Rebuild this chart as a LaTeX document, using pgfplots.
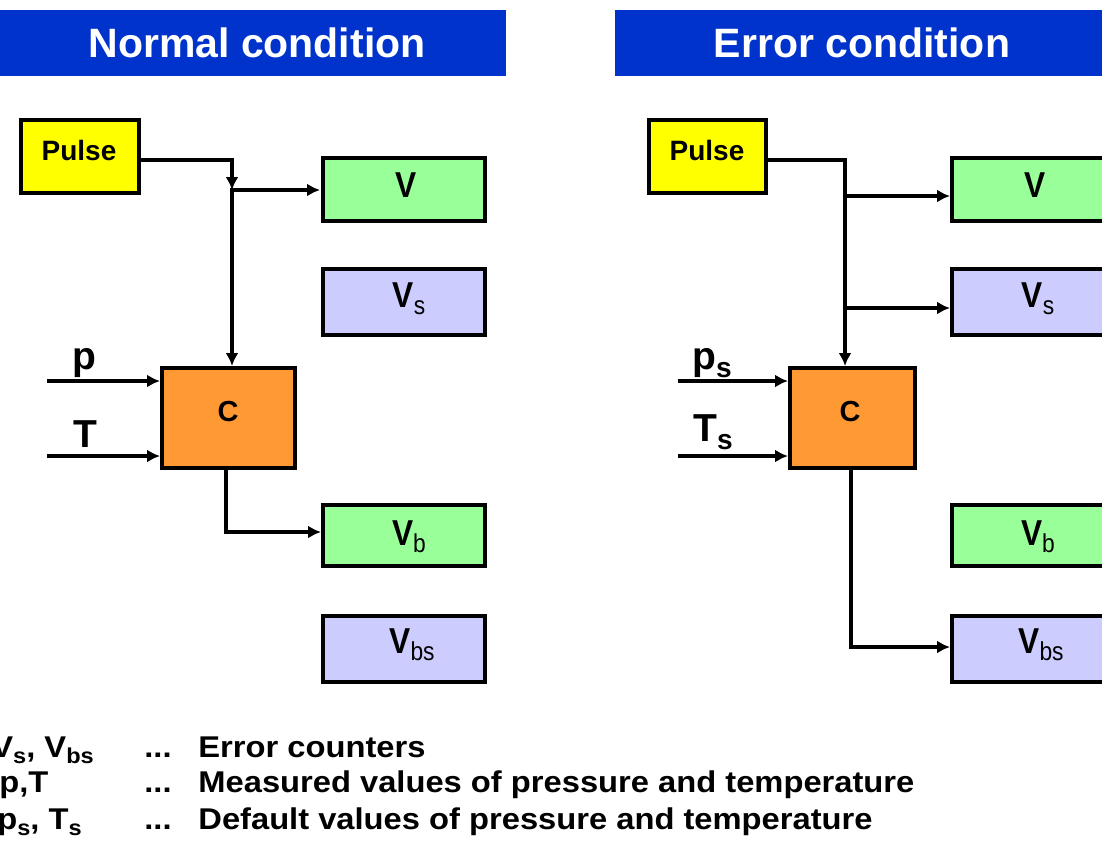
\documentclass[border=0pt]{standalone}
\usepackage{pgfplots}
\pgfplotsset{compat=1.18}
\usepackage{graphicx}
\usepackage{fontspec}
\setmainfont{Liberation Sans}
\usetikzlibrary{arrows.meta}
\definecolor{tblue}{HTML}{0033CC}
\definecolor{pyellow}{HTML}{FFFF00}
\definecolor{vgreen}{HTML}{99FF99}
\definecolor{vlav}{HTML}{CCCCFF}
\definecolor{corange}{HTML}{FF9933}
\newcommand\sub[1]{\raisebox{-0.22em}{\scalebox{0.72}{#1}}}
\begin{document}
\begin{tikzpicture}
\begin{axis}[width=551pt, height=421.5pt, scale only axis,
  xmin=0, xmax=1102, ymin=0, ymax=843, y dir=reverse, hide axis, clip=true]
\coordinate (SW) at (axis cs:0,843);
\coordinate (NE) at (axis cs:1102,0);
% title bars
\addplot[draw=none, fill=tblue] coordinates {(0,10) (506,10) (506,76) (0,76)} -- cycle;
\addplot[draw=none, fill=tblue] coordinates {(615,10) (1110,10) (1110,76) (615,76)} -- cycle;
% boxes left
\pgfplotsset{boxstyle/.style={draw=black, line width=2.3pt, mark=none}}
\addplot[boxstyle, fill=pyellow] coordinates {(21,120) (139,120) (139,193) (21,193)} -- cycle;
\addplot[boxstyle, fill=vgreen] coordinates {(323,158) (485,158) (485,221) (323,221)} -- cycle;
\addplot[boxstyle, fill=vlav] coordinates {(323,269) (485,269) (485,335) (323,335)} -- cycle;
\addplot[boxstyle, fill=corange] coordinates {(162,368) (295,368) (295,468) (162,468)} -- cycle;
\addplot[boxstyle, fill=vgreen] coordinates {(323,505) (485,505) (485,566) (323,566)} -- cycle;
\addplot[boxstyle, fill=vlav] coordinates {(323,616) (485,616) (485,682) (323,682)} -- cycle;
% boxes right
\addplot[boxstyle, fill=pyellow] coordinates {(649,120) (766,120) (766,193) (649,193)} -- cycle;
\addplot[boxstyle, fill=vgreen] coordinates {(952,158) (1115,158) (1115,221) (952,221)} -- cycle;
\addplot[boxstyle, fill=vlav] coordinates {(952,269) (1115,269) (1115,335) (952,335)} -- cycle;
\addplot[boxstyle, fill=corange] coordinates {(790,368) (915,368) (915,468) (790,468)} -- cycle;
\addplot[boxstyle, fill=vgreen] coordinates {(952,505) (1115,505) (1115,566) (952,566)} -- cycle;
\addplot[boxstyle, fill=vlav] coordinates {(952,616) (1115,616) (1115,682) (952,682)} -- cycle;
% arrows left
\pgfplotsset{arr/.style={draw=black, line width=2pt, mark=none, -{Latex[length=6.5pt,width=6.5pt]}}}
\addplot[arr] coordinates {(141,160) (232,160) (232,190)};
\addplot[arr] coordinates {(232,188) (232,366)};
\addplot[arr] coordinates {(232,190) (320,190)};
\addplot[arr] coordinates {(47,381) (160,381)};
\addplot[arr] coordinates {(47,456) (160,456)};
\addplot[arr] coordinates {(226,470) (226,532) (321,532)};
% arrows right
\addplot[arr] coordinates {(768,160) (845,160) (845,366)};
\addplot[arr] coordinates {(845,196) (950,196)};
\addplot[arr] coordinates {(845,308) (950,308)};
\addplot[arr] coordinates {(678,381) (788,381)};
\addplot[arr] coordinates {(678,456) (788,456)};
\addplot[arr] coordinates {(851,470) (851,647) (950,647)};
% titles
\node[text=white, font=\fontsize{20.5}{24}\selectfont\bfseries] at (axis cs:257,43) {Normal condition};
\node[text=white, font=\fontsize{20.5}{24}\selectfont\bfseries] at (axis cs:862,43) {Error condition};
% box labels
\node[font=\fontsize{14}{16}\selectfont\bfseries] at (axis cs:79,150) {Pulse};
\node[font=\fontsize{14}{16}\selectfont\bfseries] at (axis cs:707,150) {Pulse};
\node[font=\fontsize{14.5}{16}\selectfont\bfseries] at (axis cs:228,412) {C};
\node[font=\fontsize{14.5}{16}\selectfont\bfseries] at (axis cs:850,412) {C};
\tikzset{vl/.style={anchor=base, font=\fontsize{18}{20}\selectfont\bfseries, inner sep=0pt}}
\newcommand\vv[1]{\scalebox{0.88}[1]{#1}}
\node[vl] at (axis cs:406,197) {\vv{V}};
\node[vl] at (axis cs:409,307) {\vv{V\sub{\mdseries s}}};
\node[vl] at (axis cs:409,545) {\vv{V\sub{\mdseries b}}};
\node[vl] at (axis cs:412,653) {\vv{V\sub{\mdseries bs}}};
\node[vl] at (axis cs:1035,197) {\vv{V}};
\node[vl] at (axis cs:1038,307) {\vv{V\sub{\mdseries s}}};
\node[vl] at (axis cs:1038,545) {\vv{V\sub{\mdseries b}}};
\node[vl] at (axis cs:1041,653) {\vv{V\sub{\mdseries bs}}};
% input labels
\tikzset{il/.style={anchor=base west, font=\fontsize{19.5}{22}\selectfont\bfseries, inner sep=0pt}}
\node[il] at (axis cs:72,369) {p};
\node[il] at (axis cs:73,447) {T};
\node[il] at (axis cs:692,369) {p\sub{s}};
\node[il] at (axis cs:693,441) {T\sub{s}};
% legend
\tikzset{lg/.style={anchor=base west, font=\fontsize{15}{17}\selectfont\bfseries, inner sep=0pt}}
\newcommand\lw[1]{\scalebox{1.09}[1]{#1}}
\node[lg] at (axis cs:-9,757) {\lw{V\sub{s}, V\sub{bs}}};
\node[lg] at (axis cs:-1,792) {\lw{p,T}};
\node[lg] at (axis cs:-3,829) {\lw{p\sub{s}, T\sub{s}}};
\node[lg] at (axis cs:144,757) {\lw{...}};
\node[lg] at (axis cs:144,792) {\lw{...}};
\node[lg] at (axis cs:144,829) {\lw{...}};
\node[lg] at (axis cs:198,757) {\lw{Error counters}};
\node[lg] at (axis cs:198,792) {\lw{Measured values of pressure and temperature}};
\node[lg] at (axis cs:198,829) {\lw{Default values of pressure and temperature}};
\end{axis}
\pgfresetboundingbox
\useasboundingbox (SW) rectangle (NE);
\end{tikzpicture}
\end{document}
